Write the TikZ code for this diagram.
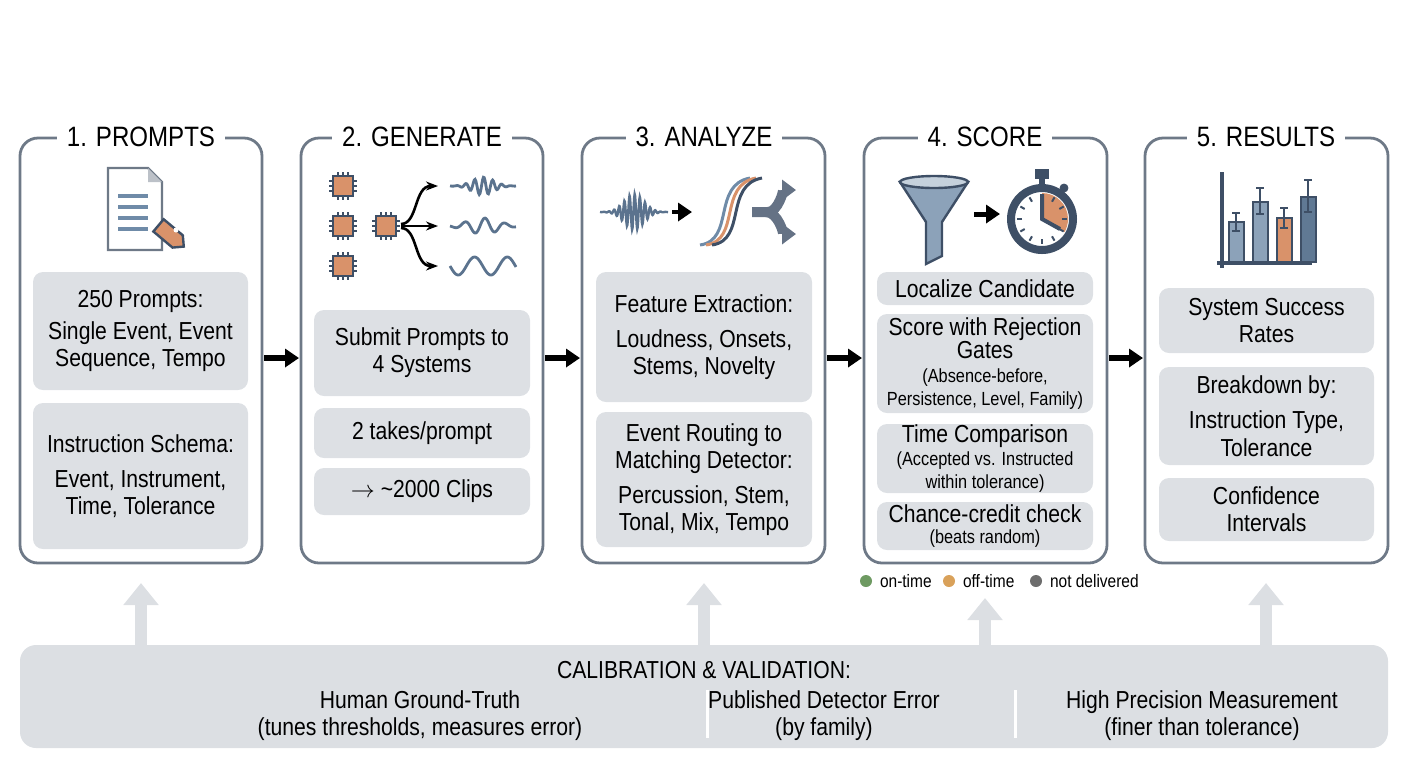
\documentclass[tikz,border=0pt]{standalone}
\usepackage{fontspec}
\setmainfont{Liberation Sans}[FakeStretch=0.86]
\usetikzlibrary{positioning,arrows.meta}
\definecolor{frame}{HTML}{6E7987}
\definecolor{cell}{HTML}{DDE0E4}
\definecolor{band}{HTML}{DCDFE3}
\definecolor{steel}{HTML}{6F8BA8}
\definecolor{navy}{HTML}{3E4F66}
\definecolor{rust}{HTML}{D9926A}
\definecolor{ontime}{HTML}{6E9A62}
\definecolor{offtime}{HTML}{D9A15A}
\definecolor{notdel}{HTML}{6D6D6D}
\tikzset{
  panel/.style={draw=frame, line width=1.4pt, rounded corners=9pt},
  title/.style={fill=white, inner xsep=5pt, font=\fontsize{14}{16}\selectfont},
  small/.style={font=\fontsize{9}{9.5}\selectfont},
  flow/.style={-{Triangle[length=7pt,width=9pt]}, line width=3pt},
  lift/.style={-{Triangle[length=11pt,width=17pt]}, line width=6pt, draw=band},
  chip/.style={navy, fill=rust, line width=1.2pt},
}
\newcommand{\cellbox}[6]{% name, x1, y1, x2, y2, text
  \fill[cell] (#2,#3) rectangle (#4,#5);
  \node[align=center, font=\fontsize{12.3}{13.6}\selectfont] (#1) at ({(#2+#4)/2},{(#3+#5)/2}) {#6};}
\newcommand{\note}[1]{{\fontsize{9.5}{10}\selectfont #1}}
\begin{document}
\begin{tikzpicture}[x=0.5pt,y=-0.5pt]
\useasboundingbox (0,0) rectangle (1408,768);
% panels
\draw[panel] (20,138) rectangle (262,563);
\draw[panel] (301,138) rectangle (543,563);
\draw[panel] (582,138) rectangle (825,563);
\draw[panel] (864,138) rectangle (1107,563);
\draw[panel] (1145,138) rectangle (1388,563);
\node[title] (t1) at (141,137) {1. PROMPTS};
\node[title] (t2) at (422,137) {2. GENERATE};
\node[title] (t3) at (704,137) {3. ANALYZE};
\node[title] (t4) at (985,137) {4. SCORE};
\node[title] (t5) at (1266,137) {5. RESULTS};
% boxes
\begin{scope}[rounded corners=5pt]
\cellbox{p1a}{33}{272}{248}{390}{250 Prompts:\\[2pt]Single Event, Event\\Sequence, Tempo}
\cellbox{p1b}{33}{403}{248}{549}{Instruction Schema:\\[4pt]Event, Instrument,\\Time, Tolerance}
\cellbox{p2a}{314}{310}{530}{396}{Submit Prompts to\\4 Systems}
\cellbox{p2b}{314}{408}{530}{458}{2 takes/prompt}
\cellbox{p2c}{314}{468}{530}{515}{$\rightarrow$ \textasciitilde2000 Clips}
\cellbox{p3a}{596}{272}{812}{402}{Feature Extraction:\\[4pt]Loudness, Onsets,\\Stems, Novelty}
\cellbox{p3b}{596}{412}{812}{547}{Event Routing to\\Matching Detector:\\[4pt]Percussion, Stem,\\Tonal, Mix, Tempo}
\cellbox{p4a}{877}{272}{1093}{305}{Localize Candidate}
\cellbox{p4b}{877}{314}{1093}{413}{Score with Rejection\\[-2pt]Gates\\[-2pt]\note{(Absence-before,}\\[-2pt]\note{Persistence, Level, Family)}}
\cellbox{p4c}{877}{424}{1093}{493}{Time Comparison\\[-2pt]\note{(Accepted vs. Instructed}\\[-2pt]\note{within tolerance)}}
\cellbox{p4d}{877}{502}{1093}{550}{Chance-credit check\\[-3pt]\note{(beats random)}}
\cellbox{p5a}{1159}{288}{1374}{353}{System Success\\Rates}
\cellbox{p5b}{1159}{367}{1374}{465}{Breakdown by:\\[4pt]Instruction Type,\\Tolerance}
\cellbox{p5c}{1159}{478}{1374}{541}{Confidence\\Intervals}
\end{scope}
% flow arrows
\coordinate (a1) at (264,358); \coordinate (b1) at (299,358);
\coordinate (a2) at (545,358); \coordinate (b2) at (580,358);
\coordinate (a3) at (827,358); \coordinate (b3) at (862,358);
\coordinate (a4) at (1109,358); \coordinate (b4) at (1143,358);
\foreach \i in {1,...,4} \draw[flow] (a\i) -- (b\i);
% legend
\fill[ontime] (866,581) circle (6);
\node[small, anchor=west] (l1) at (873,581) {on-time};
\fill[offtime] (949,581) circle (6);
\node[small, anchor=west] (l2) at (956,581) {off-time};
\fill[notdel] (1036,581) circle (6);
\node[small, anchor=west] (l3) at (1043,581) {not delivered};
% calibration band
\fill[band, rounded corners=8pt] (20,645) rectangle (1388,748);
\foreach \x/\y in {141/583,704/583,985/598,1266/583} \draw[lift] (\x,645) -- (\x,\y);
\node[font=\fontsize{12.3}{13.6}\selectfont] (cal) at (704,670) {CALIBRATION \& VALIDATION:};
\node[align=center, font=\fontsize{12.3}{13.6}\selectfont] (c1) at (420,716) {Human Ground-Truth\\(tunes thresholds, measures error)};
\node[align=center, font=\fontsize{12.3}{13.6}\selectfont] (c2) at (824,716) {Published Detector Error\\(by family)};
\node[align=center, font=\fontsize{12.3}{13.6}\selectfont] (c3) at (1202,716) {High Precision Measurement\\(finer than tolerance)};
\draw[white, line width=1.5pt] (707,690) -- (707,738) (1015,690) -- (1015,738);
% icon 1: document with tag
\draw[frame, fill=white, line width=1.2pt] (108,168) -- (148,168) -- (162,182) -- (162,250) -- (108,250) -- cycle;
\fill[cell!70!frame] (148,168) -- (148,182) -- (162,182) -- cycle;
\foreach \y in {196,207,218,229} \draw[steel, line width=2pt] (118,\y) -- (148,\y);
\draw[navy, fill=rust, line width=1.2pt, rotate around={-40:(170,235)}] (155,227) -- (180,227) -- (188,235) -- (180,243) -- (155,243) -- cycle;
\fill[white] (176,230) circle (2.5);
% icon 2: chips and waves
\foreach \x/\y in {343/186,343/226,343/266,386/226} {
  \draw[chip] (\x-10,\y-10) rectangle (\x+10,\y+10);
  \foreach \d in {-5,0,5} \draw[navy, line width=1.2pt] (\x+\d,\y-10) -- (\x+\d,\y-14) (\x+\d,\y+10) -- (\x+\d,\y+14) (\x-10,\y+\d) -- (\x-14,\y+\d) (\x+10,\y+\d) -- (\x+14,\y+\d);}
\draw[-{Stealth[length=6pt]}, line width=1.3pt] (401,224) .. controls (418,224) and (414,186) .. (438,186);
\draw[-{Stealth[length=6pt]}, line width=1.3pt] (401,226) -- (438,226);
\draw[-{Stealth[length=6pt]}, line width=1.3pt] (401,228) .. controls (418,228) and (414,266) .. (438,266);
\draw[steel!60!navy, line width=1.4pt, domain=0:66, samples=80] plot (\x+450,{186+9*sin(\x*40)*exp(-((\x-33)/15)^2)});
\draw[steel!60!navy, line width=1.4pt, domain=0:66, samples=80] plot (\x+450,{226+8*sin(\x*18)*exp(-((\x-33)/22)^2)});
\draw[steel!60!navy, line width=1.4pt, domain=0:66, samples=80] plot (\x+450,{266+9*sin(\x*11)});
% icon 3: waveform, curves, split
\draw[steel!60!navy, line width=1.2pt, domain=0:68, samples=160] plot (\x+600,{212+18*sin(\x*70)*exp(-((\x-34)/14)^2)});
\draw[flow, line width=2pt] (672,212) -- (692,212);
\draw[steel, line width=1.5pt] (700,245) .. controls (735,240) and (712,185) .. (750,178);
\draw[rust, line width=1.5pt] (706,245) .. controls (741,240) and (718,185) .. (756,178);
\draw[navy, line width=1.5pt] (712,245) .. controls (747,240) and (724,185) .. (762,178);
\draw[navy!80, line width=5pt, -{Triangle[length=7pt,width=10pt]}] (752,212) -- (768,212) .. controls (778,212) and (784,190) .. (796,190);
\draw[navy!80, line width=5pt, -{Triangle[length=7pt,width=10pt]}] (766,212) .. controls (778,212) and (784,234) .. (796,234);
% icon 4: funnel and stopwatch
\draw[navy, fill=steel!80!white, line width=1.2pt] (900,182) -- (968,182) -- (942,222) -- (942,256) -- (926,264) -- (926,222) -- cycle;
\draw[navy, fill=steel!40!white, line width=1.2pt] (934,182) ellipse (34 and 6);
\draw[flow, line width=2.5pt] (974,214) -- (1000,214);
\draw[navy, fill=navy, line width=1pt] (1036,170) rectangle (1048,178);
\draw[navy, line width=3pt] (1042,178) -- (1042,185);
\draw[navy, fill=navy] (1064,188) circle (4);
\draw[navy, fill=white, line width=4pt] (1042,219) circle (31);
\fill[rust] (1042,219) -- (1042,193) arc (-90:30:26) -- cycle;
\begin{scope}[shift={(1042,219)}]
\foreach \a in {0,30,...,330} \draw[navy, line width=1pt] (\a:20) -- (\a:25);
\end{scope}
\draw[navy, line width=2pt] (1042,194) -- (1042,219) -- (1060,229);
% icon 5: bar chart
\draw[navy, line width=1.6pt] (1222,172) -- (1222,268) (1217,263) -- (1312,263);
\draw[navy, fill=steel!80!white, line width=1pt] (1229,222) rectangle (1244,262);
\draw[navy, fill=steel!80!white, line width=1pt] (1253,202) rectangle (1268,262);
\draw[navy, fill=rust, line width=1pt] (1277,218) rectangle (1292,262);
\draw[navy, fill=steel!70!navy, line width=1pt] (1301,197) rectangle (1316,262);
\foreach \x/\a/\b in {1236/213/231,1260/188/214,1284/208/228,1308/180/212}
  \draw[navy, line width=1pt] (\x,\a) -- (\x,\b) (\x-4,\a) -- (\x+4,\a) (\x-4,\b) -- (\x+4,\b);
\end{tikzpicture}
\end{document}
